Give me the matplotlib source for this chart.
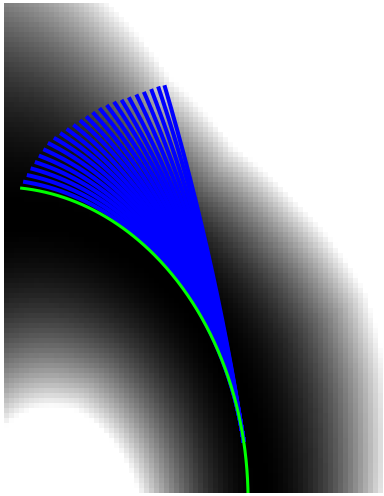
import numpy as np
import matplotlib
matplotlib.use("Agg")
import matplotlib.pyplot as plt

# window in data units (reference circle has radius 1, centre at origin)
X_LIM = (0.016, 1.544)
Y_LIM = (0.022, 1.588)
N_COLS, N_ROWS = 76, 98

# dark valley of the background, tabulated against polar angle (deg)
ANG_MID = [0, 45, 90]
R_MID = [1.056, 0.98, 0.895]
ANG_IN = [0, 45, 53, 90]
R_IN = [0.564, 0.41, 0.37, 0.21]
ANG_OUT = [0, 15, 24, 31, 38, 50, 63, 74, 90]
R_OUT = [1.56, 1.61, 1.62, 1.58, 1.53, 1.47, 1.51, 1.64, 1.88]

# green reference arc, start/stop angle (deg)
GREEN_ANG = (-3, 85)

# blue fan: shared start angle on the circle and the end points of each path
FAN_START = 11
FAN_END_X = [0.101, 0.116, 0.131, 0.148, 0.164, 0.182, 0.200, 0.224,
             0.249, 0.275, 0.302, 0.328, 0.353, 0.379, 0.406, 0.435,
             0.464, 0.494, 0.523, 0.553, 0.583, 0.612, 0.640, 0.665]
FAN_END_Y = [1.016, 1.037, 1.058, 1.078, 1.098, 1.118, 1.138, 1.154,
             1.169, 1.182, 1.195, 1.209, 1.221, 1.234, 1.247, 1.257,
             1.267, 1.273, 1.281, 1.290, 1.298, 1.307, 1.315, 1.319]


def valley_field() -> np.ndarray:
    du = (X_LIM[1] - X_LIM[0]) / N_COLS
    dv = (Y_LIM[1] - Y_LIM[0]) / N_ROWS
    u = X_LIM[0] + du * (np.arange(N_COLS) + 0.5)
    v = Y_LIM[0] + dv * (np.arange(N_ROWS) + 0.5)
    uu, vv = np.meshgrid(u, v)
    r = np.hypot(uu, vv)
    th = np.degrees(np.arctan2(vv, uu))
    rc = np.interp(th, ANG_MID, R_MID)
    r_in = np.interp(th, ANG_IN, R_IN)
    r_out = np.interp(th, ANG_OUT, R_OUT)
    z = np.where(r < rc, (rc - r) / (rc - r_in), (r - rc) / (r_out - rc))
    return np.clip(z ** 2, 0, 1)


def arc_from(p0, t0, end, n=150):
    # circular arc leaving p0 along t0 and ending at `end`
    nrm = np.array([-t0[1], t0[0]])
    d = end - p0
    rho = d @ d / (2 * (d @ nrm))
    c = p0 + rho * nrm
    a0 = np.arctan2(p0[1] - c[1], p0[0] - c[0])
    a1 = np.arctan2(end[1] - c[1], end[0] - c[0])
    if a1 < a0:
        a1 += 2 * np.pi
    a = np.linspace(a0, a1, n)
    return c[0] + rho * np.cos(a), c[1] + rho * np.sin(a)


def main() -> None:
    fig = plt.figure(figsize=(3.84, 4.96), dpi=100)
    fig.patch.set_facecolor("white")
    ax = fig.add_axes([4 / 384, 3 / 496, 379 / 384, 490 / 496])

    ax.imshow(valley_field(), cmap="gray", vmin=0, vmax=1, origin="lower",
              extent=[X_LIM[0], X_LIM[1], Y_LIM[0], Y_LIM[1]],
              interpolation="nearest", aspect="auto")

    s = np.radians(FAN_START)
    p0 = np.array([np.cos(s), np.sin(s)])
    t0 = np.array([-np.sin(s), np.cos(s)])
    for ex, ey in zip(FAN_END_X, FAN_END_Y):
        xs, ys = arc_from(p0, t0, np.array([ex, ey]))
        ax.plot(xs, ys, color="#0000ff", lw=2.9, zorder=2)

    g = np.radians(np.linspace(GREEN_ANG[0], GREEN_ANG[1], 300))
    ax.plot(np.cos(g), np.sin(g), color="#00ff00", lw=2.2, zorder=3)

    ax.set_xlim(*X_LIM)
    ax.set_ylim(*Y_LIM)
    ax.axis("off")
    fig.savefig("out.png", dpi=100)
    plt.close(fig)


if __name__ == "__main__":
    main()
